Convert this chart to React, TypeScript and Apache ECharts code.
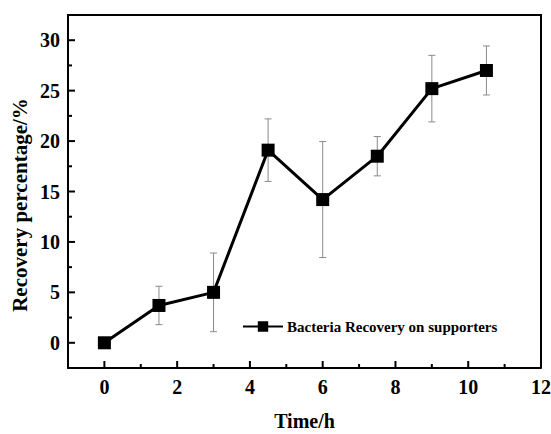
import React, { useEffect, useRef } from "react";
import * as echarts from "echarts";

const times = [0, 1.5, 3, 4.5, 6, 7.5, 9, 10.5];
const recovery = [0, 3.7, 5.0, 19.1, 14.2, 18.5, 25.2, 27.0];
const errors = [0, 1.9, 3.9, 3.1, 5.75, 1.95, 3.3, 2.43];
const seriesName = "Bacteria Recovery on supporters";
const xTitle = "Time/h";
const yTitle = "Recovery percentage/%";
const xMajor = [0, 2, 4, 6, 8, 10, 12];
const xMinor = [1, 3, 5, 7, 9, 11];
const yMajor = [0, 5, 10, 15, 20, 25, 30];
const yMinor = [2.5, 7.5, 12.5, 17.5, 22.5, 27.5];
const X_MIN = -1;
const X_MAX = 12;
const Y_MIN = -2.5;
const Y_MAX = 32.5;

const FONT = "Liberation Serif";
const MAJOR_LEN = 7;
const MINOR_LEN = 4;

export default function App() {
  const ref = useRef<HTMLDivElement>(null);
  useEffect(() => {
    if (!ref.current) return;
    const chart = echarts.init(ref.current, null, { renderer: "svg" });
    const lineData = times.map((t, i) => [t, recovery[i]]);
    const errData = times.map((t, i) => [t, recovery[i] - errors[i], recovery[i] + errors[i]]);
    const labelStyle = { fontFamily: FONT, fontWeight: "bold", fontSize: 20, color: "#000" };
    chart.setOption({
      animation: false,
      backgroundColor: "#fff",
      grid: {
        left: 68,
        right: 10,
        top: 15,
        bottom: 66,
        outerBoundsMode: "none",
        containLabel: false,
        show: false,
      },
      legend: {
        data: [seriesName],
        left: 237,
        top: 314,
        itemWidth: 40,
        itemHeight: 13,
        itemGap: 0,
        textStyle: { fontFamily: FONT, fontWeight: "bold", fontSize: 15, color: "#000", padding: [0, 0, 0, -1] },
      },
      xAxis: {
        type: "value",
        min: X_MIN,
        max: X_MAX,
        interval: 1,
        splitLine: { show: false },
        axisLine: { show: true, onZero: false, lineStyle: { color: "#000", width: 2 } },
        axisTick: { show: false },
        axisLabel: {
          margin: 9,
          ...labelStyle,
          formatter: (v: number) => (xMajor.indexOf(v) >= 0 ? String(v) : ""),
        },
        name: xTitle,
        nameLocation: "middle",
        nameGap: 43,
        nameTextStyle: labelStyle,
      },
      yAxis: {
        type: "value",
        min: Y_MIN,
        max: Y_MAX,
        interval: 2.5,
        splitLine: { show: false },
        axisLine: { show: true, onZero: false, lineStyle: { color: "#000", width: 2 } },
        axisTick: { show: false },
        axisLabel: {
          margin: 8,
          ...labelStyle,
          formatter: (v: number) => (yMajor.indexOf(v) >= 0 ? String(v) : ""),
        },
      },
      series: [
        {
          type: "custom",
          name: "err",
          z: 1,
          data: errData,
          renderItem: (params: any, api: any) => {
            const x = api.value(0);
            const lo = api.coord([x, api.value(1)]);
            const hi = api.coord([x, api.value(2)]);
            const w = 3.5;
            const st = { stroke: "#8a8a8a", lineWidth: 1 };
            return {
              type: "group",
              children: [
                { type: "line", shape: { x1: hi[0], y1: hi[1], x2: lo[0], y2: lo[1] }, style: st },
                { type: "line", shape: { x1: hi[0] - w, y1: hi[1], x2: hi[0] + w, y2: hi[1] }, style: st },
                { type: "line", shape: { x1: lo[0] - w, y1: lo[1], x2: lo[0] + w, y2: lo[1] }, style: st },
              ],
            };
          },
        },
        {
          type: "line",
          name: seriesName,
          z: 3,
          data: lineData,
          symbol: "rect",
          symbolSize: 13,
          lineStyle: { color: "#000", width: 3 },
          itemStyle: { color: "#000" },
        },
      ],
    });

    const toPx = (x: number, y: number) => chart.convertToPixel({ gridIndex: 0 }, [x, y]) as number[];
    const tickStyle = { stroke: "#000", lineWidth: 2, fill: "none" };
    const xTick = (v: number, len: number) => {
      const p = toPx(v, Y_MIN);
      return { type: "polyline", z: 100, silent: true, shape: { points: [[p[0], p[1]], [p[0], p[1] - len]] }, style: tickStyle };
    };
    const yTick = (v: number, len: number) => {
      const p = toPx(X_MIN, v);
      return { type: "polyline", z: 100, silent: true, shape: { points: [[p[0], p[1]], [p[0] + len, p[1]]] }, style: tickStyle };
    };
    const tl = toPx(X_MIN, Y_MAX);
    const br = toPx(X_MAX, Y_MIN);
    const frame = {
      type: "polyline",
      z: 100,
      silent: true,
      shape: { points: [[tl[0], br[1]], [tl[0], tl[1]], [br[0], tl[1]], [br[0], br[1]]] },
      style: { stroke: "#000", lineWidth: 2, fill: "none" },
    };
    const ticks = [
      ...xMajor.map((v) => xTick(v, MAJOR_LEN)),
      ...xMinor.map((v) => xTick(v, MINOR_LEN)),
      ...yMajor.map((v) => yTick(v, MAJOR_LEN)),
      ...yMinor.map((v) => yTick(v, MINOR_LEN)),
    ];
    chart.setOption({
      graphic: [
        {
          type: "text",
          x: 20,
          y: 205,
          rotation: Math.PI / 2,
          style: {
            text: yTitle,
            align: "center",
            verticalAlign: "middle",
            fontFamily: FONT,
            fontWeight: "bold",
            fontSize: 21,
            fill: "#000",
          },
        },
        frame,
        ...ticks,
      ],
    });
    return () => chart.dispose();
  }, []);
  return <div ref={ref} style={{ width: 551, height: 434, position: "absolute", left: 0, top: 0 }} />;
}
